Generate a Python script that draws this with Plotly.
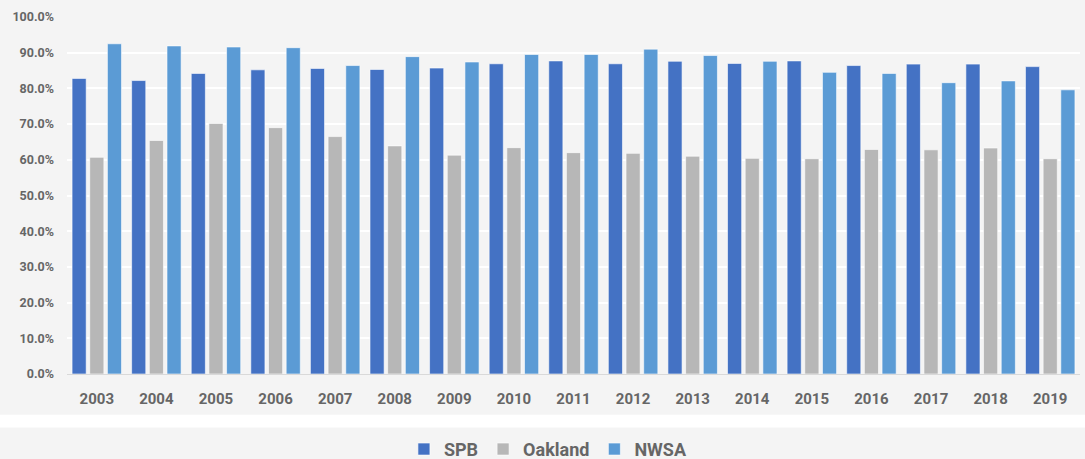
import plotly.graph_objects as go

years = [str(y) for y in range(2003, 2020)]

spb = [0.828, 0.822, 0.842, 0.852, 0.856, 0.853, 0.857, 0.869, 0.877, 0.869,
       0.876, 0.870, 0.877, 0.864, 0.868, 0.868, 0.861]
oakland = [0.607, 0.654, 0.702, 0.690, 0.665, 0.639, 0.613, 0.634, 0.620, 0.618,
           0.610, 0.604, 0.603, 0.629, 0.628, 0.633, 0.603]
nwsa = [0.925, 0.919, 0.916, 0.914, 0.864, 0.889, 0.874, 0.895, 0.895, 0.910,
        0.892, 0.876, 0.845, 0.842, 0.816, 0.821, 0.796]

series = [("SPB", spb, "#4472C4"),
          ("Oakland", oakland, "#B7B7B7"),
          ("NWSA", nwsa, "#5B9BD5")]

fig = go.Figure()
for name, vals, color in series:
    fig.add_trace(go.Bar(
        x=years, y=vals, name=name,
        marker=dict(color=color, line=dict(color="rgba(255,255,255,0.6)", width=1)),
    ))

# white strip between chart and legend band
fig.add_shape(
    type="rect", xref="paper", yref="paper",
    x0=-0.2, x1=1.2, y0=-0.150, y1=-0.114,
    fillcolor="white", line=dict(width=0), layer="below",
)

fig.update_layout(
    width=1085, height=459,
    paper_bgcolor="#f4f4f4", plot_bgcolor="#f4f4f4",
    font=dict(family="Roboto", color="#666666"),
    barmode="group", bargap=0.11, bargroupgap=0.2,
    margin=dict(l=67, r=5, t=17, b=85),
    xaxis=dict(
        tickfont=dict(size=15, family="Roboto", weight="bold", color="#666666"),
        showline=True, linecolor="#d9d9d9", linewidth=1,
        ticklabelstandoff=11,
    ),
    yaxis=dict(
        range=[0, 1.0], dtick=0.1, tickformat=".1%",
        gridcolor="white", gridwidth=2, zeroline=False,
        tickfont=dict(size=12.5, family="Roboto", weight="bold", color="#666666"),
        ticklabelstandoff=12,
    ),
    legend=dict(
        orientation="h", xref="container", x=0.505, xanchor="center",
        yref="container", y=0.021, yanchor="middle",
        font=dict(size=18, family="Roboto", weight="bold", color="#666666"),
        itemwidth=30, bgcolor="rgba(0,0,0,0)", traceorder="normal",
    ),
)

# drop the page's default body margin so the figure fills the window
fig.write_html(
    "out.html",
    config={"displayModeBar": False},
    post_script="document.body.style.margin='0';document.body.style.background='#f4f4f4';",
)
